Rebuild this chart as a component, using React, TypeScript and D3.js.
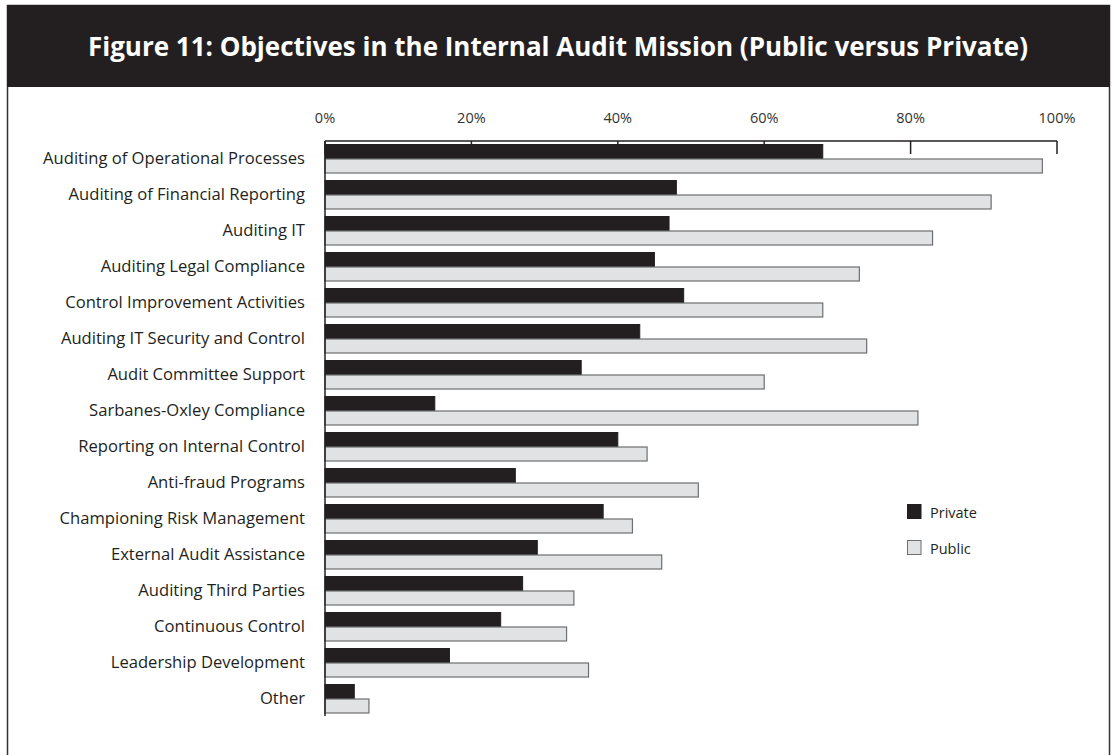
import React from "react";
import * as d3 from "d3";

const categories = [
  "Auditing of Operational Processes",
  "Auditing of Financial Reporting",
  "Auditing IT",
  "Auditing Legal Compliance",
  "Control Improvement Activities",
  "Auditing IT Security and Control",
  "Audit Committee Support",
  "Sarbanes-Oxley Compliance",
  "Reporting on Internal Control",
  "Anti-fraud Programs",
  "Championing Risk Management",
  "External Audit Assistance",
  "Auditing Third Parties",
  "Continuous Control",
  "Leadership Development",
  "Other",
];
const privateValues = [68, 48, 47, 45, 49, 43, 35, 15, 40, 26, 38, 29, 27, 24, 17, 4];
const publicValues = [98, 91, 83, 73, 68, 74, 60, 81, 44, 51, 42, 46, 34, 33, 36, 6];
const tickValues = [0, 20, 40, 60, 80, 100];
const title = "Figure 11: Objectives in the Internal Audit Mission (Public versus Private)";
const legendItems = ["Private", "Public"];

const W = 1112;
const H = 755;
const DARK = "#231f20";
const LIGHT = "#e1e2e4";
const LIGHT_STROKE = "#6d6e71";
const FONT = "'Open Sans', 'Noto Sans', sans-serif";

export default function App() {
  const x = d3.scaleLinear().domain([0, 100]).range([325, 1057]);
  const y = d3.scaleBand<string>().domain(categories).range([141, 717]).padding(0);
  const axisTop = 141;

  return (
    <svg
      width={W}
      height={H}
      style={{ position: "absolute", left: 0, top: 0, background: "#fff" }}
      fontFamily={FONT}
    >
      {/* frame */}
      <rect x={7.5} y={5.5} width={1102} height={760} fill="#fff" stroke="#333" strokeWidth={1.5} />
      <rect x={7} y={5} width={1103} height={82} fill={DARK} />
      <text
        x={558}
        y={56}
        textAnchor="middle"
        fill="#fff"
        fontWeight={700}
        fontSize={27.5}
        textLength={940}
        lengthAdjust="spacingAndGlyphs"
      >
        {title}
      </text>

      {/* top axis */}
      <line x1={x(0)} x2={x(100)} y1={axisTop} y2={axisTop} stroke={DARK} strokeWidth={1.5} />
      {tickValues.map((t) => (
        <g key={t}>
          <line x1={x(t)} x2={x(t)} y1={axisTop} y2={axisTop + 13} stroke={DARK} strokeWidth={1.5} />
          <text x={x(t)} y={123} textAnchor="middle" fontSize={14.5} fill="#333">
            {t}%
          </text>
        </g>
      ))}

      {/* bars */}
      {categories.map((c, i) => {
        const b = y(c) as number;
        return (
          <g key={c}>
            <rect
              x={x(0)}
              y={b + 3.5}
              width={x(privateValues[i]) - x(0)}
              height={14.5}
              fill={DARK}
              stroke={DARK}
              strokeWidth={1}
            />
            <rect
              x={x(0)}
              y={b + 18}
              width={x(publicValues[i]) - x(0)}
              height={14}
              fill={LIGHT}
              stroke={LIGHT_STROKE}
              strokeWidth={1.2}
            />
            <text x={305} y={b + 23} textAnchor="end" fontSize={16.6} fill="#231f20">
              {c}
            </text>
          </g>
        );
      })}

      {/* y axis line */}
      <line x1={x(0)} x2={x(0)} y1={axisTop} y2={716} stroke={DARK} strokeWidth={1.5} />

      {/* legend */}
      {legendItems.map((l, i) => (
        <g key={l} transform={`translate(907.5, ${504.5 + i * 36})`}>
          <rect
            width={13.5}
            height={14}
            fill={i === 0 ? DARK : LIGHT}
            stroke={i === 0 ? DARK : LIGHT_STROKE}
            strokeWidth={1}
          />
          <text x={22.5} y={13} fontSize={14.5} fill="#231f20">
            {l}
          </text>
        </g>
      ))}
    </svg>
  );
}
